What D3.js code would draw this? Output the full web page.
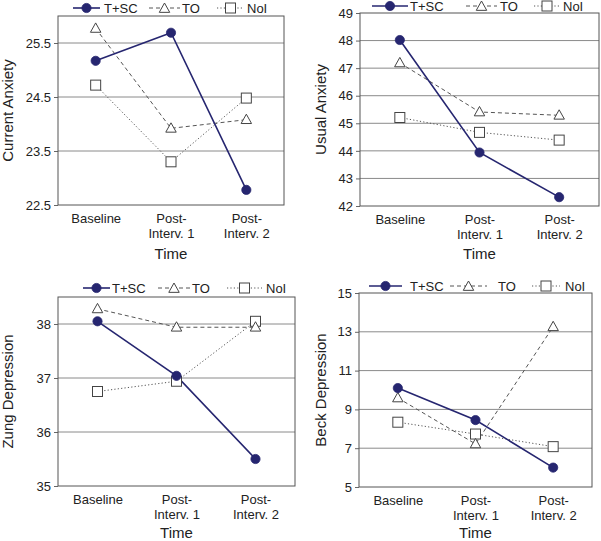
<!DOCTYPE html>
<html>
<head>
<meta charset="utf-8">
<script src="https://cdn.jsdelivr.net/npm/d3@7"></script>
<style>
  html, body { margin: 0; padding: 0; background: #fff; }
  svg { display: block; font-family: "Liberation Sans", Arial, sans-serif; }
</style>
</head>
<body>
<svg id="chart" width="601" height="541"></svg>
<script>
// ---- data ----
const categories = ["Baseline", "Post-Interv. 1", "Post-Interv. 2"];
const seriesNames = ["T+SC", "TO", "NoI"];

const currentAnxietyTSC = [25.17, 25.69, 22.78];
const currentAnxietyTO  = [25.77, 23.92, 24.08];
const currentAnxietyNoI = [24.72, 23.30, 24.48];
const currentAnxietyTicks = [22.5, 23.5, 24.5, 25.5];

const usualAnxietyTSC = [48.02, 43.94, 42.32];
const usualAnxietyTO  = [47.19, 45.41, 45.29];
const usualAnxietyNoI = [45.21, 44.67, 44.39];
const usualAnxietyTicks = [42, 43, 44, 45, 46, 47, 48, 49];

const zungTSC = [38.05, 37.04, 35.50];
const zungTO  = [38.28, 37.94, 37.94];
const zungNoI = [36.75, 36.94, 38.05];
const zungTicks = [35, 36, 37, 38];

const beckTSC = [10.10, 8.45, 6.00];
const beckTO  = [9.59, 7.22, 13.26];
const beckNoI = [8.34, 7.73, 7.08];
const beckTicks = [5, 7, 9, 11, 13, 15];

// ---- panel layout ----
const panels = [
  { title: "Current Anxiety", series: [currentAnxietyTSC, currentAnxietyTO, currentAnxietyNoI],
    ticks: currentAnxietyTicks, domain: [22.5, 26.0],
    left: 58, right: 284, top: 16, bottom: 205, titleX: 8, legendY: 8, timeY: 259,
    legend: [[73, 100, 104], [149, 180, 182], [217, 244, 247]],
    tickFmt: d3.format(".1f") },
  { title: "Usual Anxiety", series: [usualAnxietyTSC, usualAnxietyTO, usualAnxietyNoI],
    ticks: usualAnxietyTicks, domain: [42, 49],
    left: 360, right: 599, top: 13, bottom: 206, titleX: 321, legendY: 6, timeY: 259,
    legend: [[372, 408, 410], [466, 497, 500], [534, 560, 563]],
    tickFmt: d3.format("d") },
  { title: "Zung Depression", series: [zungTSC, zungTO, zungNoI],
    ticks: zungTicks, domain: [35, 38.5],
    left: 58, right: 295, top: 297, bottom: 486, titleX: 8, legendY: 288, timeY: 538,
    legend: [[83, 110, 112], [158, 190, 192], [227, 262, 266]],
    tickFmt: d3.format("d") },
  { title: "Beck Depression", series: [beckTSC, beckTO, beckNoI],
    ticks: beckTicks, domain: [5, 15],
    left: 359, right: 592, top: 293, bottom: 487, titleX: 321, legendY: 286, timeY: 538,
    legend: [[369, 402, 410], [450, 487, 498], [532, 560, 565]],
    tickFmt: d3.format("d") }
];

const navy = "#262670";
const gray = "#555";
const styles = [
  { stroke: navy, width: 1.6, dash: null, marker: "circle" },
  { stroke: gray, width: 1, dash: "4,3", marker: "triangle" },
  { stroke: gray, width: 1, dash: "1.2,2.2", marker: "square" }
];
const textColor = "#222";

const svg = d3.select("#chart");

function drawMarker(g, type, cx, cy) {
  if (type === "circle") {
    g.append("circle").attr("cx", cx).attr("cy", cy).attr("r", 4.6)
      .attr("fill", navy).attr("stroke", navy).attr("stroke-width", 0.8);
  } else if (type === "triangle") {
    const s = 5.5;
    g.append("path")
      .attr("d", `M${cx},${cy - s}L${cx + s * 0.95},${cy + s * 0.7}L${cx - s * 0.95},${cy + s * 0.7}Z`)
      .attr("fill", "#fff").attr("stroke", "#444").attr("stroke-width", 1);
  } else {
    const s = 5;
    g.append("rect").attr("x", cx - s).attr("y", cy - s).attr("width", 2 * s).attr("height", 2 * s)
      .attr("fill", "#fff").attr("stroke", "#444").attr("stroke-width", 1);
  }
}

panels.forEach(p => {
  const g = svg.append("g");
  const x = d3.scalePoint().domain(categories).range([p.left, p.right]).padding(0.5);
  const y = d3.scaleLinear().domain(p.domain).range([p.bottom, p.top]);

  // gridlines
  g.append("g").selectAll("line")
    .data(p.ticks.filter(t => t > p.domain[0] && t < p.domain[1]))
    .join("line")
    .attr("x1", p.left).attr("x2", p.right)
    .attr("y1", d => y(d)).attr("y2", d => y(d))
    .attr("stroke", "#8a8a8a").attr("stroke-width", 1);

  // y axis
  const ya = g.append("g").attr("transform", `translate(${p.left},0)`)
    .call(d3.axisLeft(y).tickValues(p.ticks).tickSize(4).tickPadding(3).tickFormat(p.tickFmt));
  ya.select(".domain").remove();
  ya.selectAll(".tick line").attr("stroke", "#666");
  ya.selectAll(".tick text").attr("fill", textColor).style("font-size", "13px")
    .style("font-family", "'Liberation Sans', Arial, sans-serif");

  // box
  g.append("rect").attr("x", p.left).attr("y", p.top)
    .attr("width", p.right - p.left).attr("height", p.bottom - p.top)
    .attr("fill", "none").attr("stroke", "#555").attr("stroke-width", 1);

  // x axis labels
  const xa = g.append("g").attr("transform", `translate(0,${p.bottom})`)
    .call(d3.axisBottom(x).tickSize(0).tickPadding(0));
  xa.select(".domain").remove();
  xa.selectAll(".tick text").each(function(d) {
    const t = d3.select(this);
    t.text(null).attr("fill", textColor).style("font-size", "13px")
      .style("font-family", "'Liberation Sans', Arial, sans-serif")
      .attr("y", 0).attr("dy", null);
    const parts = d.startsWith("Post-") ? ["Post-", d.slice(5)] : [d];
    parts.forEach((s, i) => {
      t.append("tspan").attr("x", 0).attr("y", 18 + i * 15).text(s);
    });
  });

  // x title
  g.append("text").attr("x", (p.left + p.right) / 2).attr("y", p.timeY)
    .attr("text-anchor", "middle").attr("fill", textColor).style("font-size", "15px")
    .text("Time");

  // y title
  g.append("text")
    .attr("transform", `translate(${p.titleX + 5},${(p.top + p.bottom) / 2}) rotate(-90)`)
    .attr("text-anchor", "middle").attr("fill", textColor).style("font-size", "15px")
    .text(p.title);

  // series lines (draw gray first, navy on top)
  const order = [2, 1, 0];
  const line = d3.line().x((d, i) => x(categories[i])).y(d => y(d));
  order.forEach(si => {
    const st = styles[si];
    g.append("path").datum(p.series[si]).attr("d", line)
      .attr("fill", "none").attr("stroke", st.stroke).attr("stroke-width", st.width)
      .attr("stroke-dasharray", st.dash);
  });
  order.forEach(si => {
    p.series[si].forEach((v, i) => drawMarker(g, styles[si].marker, x(categories[i]), y(v)));
  });

  // legend
  seriesNames.forEach((name, si) => {
    const [x1, x2, tx] = p.legend[si];
    const st = styles[si];
    g.append("line").attr("x1", x1).attr("x2", x2).attr("y1", p.legendY).attr("y2", p.legendY)
      .attr("stroke", st.stroke).attr("stroke-width", st.width).attr("stroke-dasharray", st.dash);
    drawMarker(g, st.marker, (x1 + x2) / 2, p.legendY + (st.marker === "triangle" ? 0.5 : 0));
    g.append("text").attr("x", tx).attr("y", p.legendY).attr("dy", "0.35em")
      .attr("fill", textColor).style("font-size", "13px").text(name);
  });
});
</script>
</body>
</html>
